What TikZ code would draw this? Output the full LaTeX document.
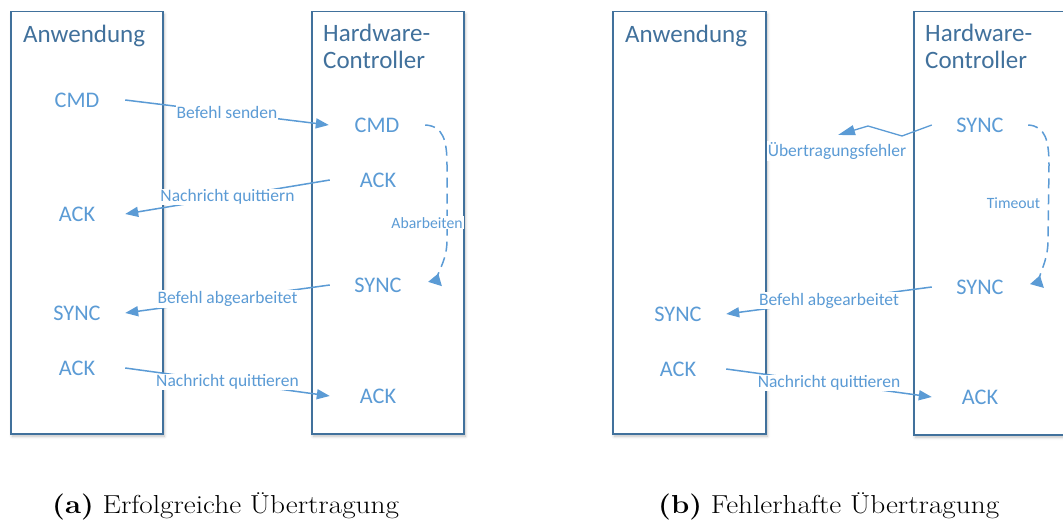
\documentclass[tikz,border=0pt]{standalone}
\usepackage{fontspec}
\newfontfamily\calfont{Carlito}
\usetikzlibrary{arrows.meta,shadows.blur}
\definecolor{boxblue}{RGB}{65,113,156}
\definecolor{lblue}{RGB}{91,155,213}
\begin{document}
\begin{tikzpicture}[x=1pt,y=-1pt,
  lane/.style={draw=boxblue, line width=1.5pt, fill=white, rectangle, inner sep=0pt, anchor=north west,
    blur shadow={shadow xshift=1.5pt, shadow yshift=-2.5pt, shadow blur radius=3pt, shadow opacity=25}},
  head/.style={text=boxblue, font=\calfont\fontsize{25}{27}\selectfont, inner sep=0pt, anchor=base west, align=left},
  msg/.style={text=lblue, font=\calfont\fontsize{22.3}{26}\selectfont, inner sep=0pt, minimum width=96pt, minimum height=20pt},
  lab/.style={text=lblue, font=\calfont\fontsize{17.5}{19}\selectfont, fill=white, inner sep=1pt},
  smalllab/.style={text=lblue, font=\calfont\fontsize{15.7}{18}\selectfont, fill=white, inner sep=1pt},
  flow/.style={draw=lblue, line width=1.5pt, -{Triangle[length=13pt,width=10pt]}},
  loopline/.style={draw=lblue, line width=1.5pt, dash pattern=on 10pt off 6pt, -{Triangle[reversed,length=11pt,width=14pt]}},
  captext/.style={font=\fontsize{26}{30}\selectfont, inner sep=0pt, anchor=base west}
]
\useasboundingbox (0,0) rectangle (1063,524);

% lanes
\node[lane, minimum width=152pt, minimum height=422pt] (appA) at (10,11) {};
\node[lane, minimum width=152pt, minimum height=422pt] (hwA) at (311,11) {};
\node[lane, minimum width=153pt, minimum height=422pt] (appB) at (612,11) {};
\node[lane, minimum width=170pt, minimum height=423pt] (hwB) at (913,11) {};

% headers
\node[head] (hA1) at (23,43) {Anwendung};
\node[head] (hA2) at (323,69) {Hardware-\\Controller};
\node[head] (hB1) at (625,43) {Anwendung};
\node[head] (hB2) at (925,69) {Hardware-\\Controller};

% panel (a) messages
\node[msg] (cmdA) at (77,100) {CMD};
\node[msg] (ackA1) at (77,214) {ACK};
\node[msg] (syncA) at (77,313) {SYNC};
\node[msg] (ackA2) at (77,368) {ACK};
\node[msg] (cmdH) at (377,125) {CMD};
\node[msg] (ackH1) at (378,180) {ACK};
\node[msg] (syncH) at (378,285) {SYNC};
\node[msg] (ackH2) at (378,396) {ACK};
\coordinate (loopA) at (435,284);

% panel (b) messages
\node[msg] (syncAb) at (678,314) {SYNC};
\node[msg] (ackAb) at (678,369) {ACK};
\node[msg] (syncH1b) at (980,125) {SYNC};
\node[msg] (syncH2b) at (980,287) {SYNC};
\node[msg] (ackHb) at (980,397) {ACK};
\coordinate (loopB) at (1037,286);
\coordinate (errTip) at (838,135);

% connectors (a)
\draw[flow] (cmdA.east) -- node[lab]{Befehl senden} (cmdH.west);
\draw[flow] (ackH1.west) -- node[lab]{Nachricht quittiern} (ackA1.east);
\draw[flow] (syncH.west) -- node[lab]{Befehl abgearbeitet} (syncA.east);
\draw[flow] (ackA2.east) -- node[lab]{Nachricht quittieren} (ackH2.west);
\draw[loopline] (cmdH.east) .. controls (443,126) and (447,140) .. (447,165)
  -- node[smalllab, pos=0.77, xshift=-20pt]{Abarbeiten} (447,240)
  .. controls (447,258) and (440,268) .. (loopA);

% connectors (b)
\draw[draw=lblue, line width=1.3pt, -{Triangle[length=17pt,width=10pt]}]
  (syncH1b.west) -- (902,136) -- (868,126) -- (errTip);
\node[lab] (errlab) at (837,151) {Übertragungsfehler};
\draw[loopline] (syncH1b.east) .. controls (1045,126) and (1049,140) .. (1049,165)
  -- node[smalllab, pos=0.51, xshift=-35pt]{Timeout} (1048,240)
  .. controls (1048,258) and (1042,268) .. (loopB);
\draw[flow] (syncH2b.west) -- node[lab]{Befehl abgearbeitet} (syncAb.east);
\draw[flow] (ackAb.east) -- node[lab]{Nachricht quittieren} (ackHb.west);

% captions
\node[captext] (capA) at (52,513) {\scalebox{1.125}[1]{\textbf{(a)} Erfolgreiche Übertragung}};
\node[captext] (capB) at (658,513) {\scalebox{1.125}[1]{\textbf{(b)} Fehlerhafte Übertragung}};
\end{tikzpicture}
\end{document}
